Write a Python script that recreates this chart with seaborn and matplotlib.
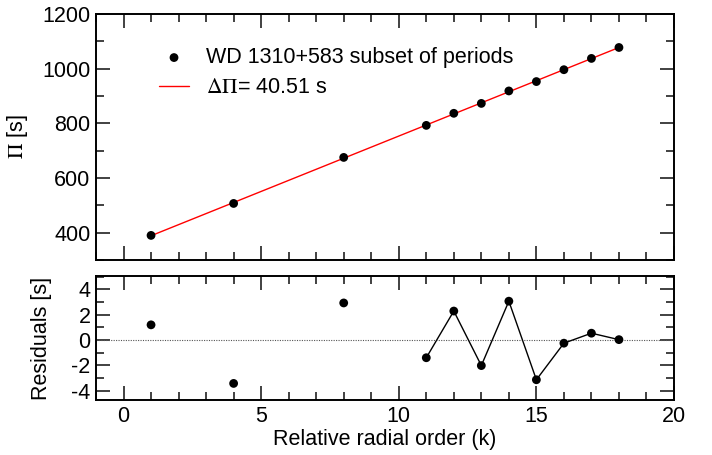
import numpy as np
import pandas as pd
import seaborn as sns
import matplotlib
matplotlib.use("Agg")
import matplotlib.pyplot as plt
from matplotlib.ticker import MultipleLocator

# Radial order and measured periods of the selected modes
k_order = [1, 4, 8, 11, 12, 13, 14, 15, 16, 17, 18]
periods = [390.0, 506.9, 675.3, 792.5, 836.7, 872.9, 918.5, 952.8, 996.2, 1037.5, 1077.5]

# Linear fit Pi(k) = Pi0 + dPi * k
delta_pi = 40.51
pi_zero = 348.3

# Residual points joined by a line (the consecutive run of orders)
joined_k = [11, 12, 13, 14, 15, 16, 17, 18]

star_label = "WD 1310+583 subset of periods"
fit_label = r"$\Delta\Pi$= 40.51 s"

sns.set_theme(style="ticks")
plt.rcParams["font.family"] = ["Liberation Sans", "DejaVu Sans"]
plt.rcParams["mathtext.fontset"] = "stix"
plt.rcParams["axes.unicode_minus"] = False
plt.rcParams["text.color"] = "black"
plt.rcParams["axes.labelcolor"] = "black"

FS = 15.5

df = pd.DataFrame({"k": k_order, "period": periods})
df["fit"] = pi_zero + delta_pi * df["k"]
df["resid"] = df["period"] - df["fit"]

fig = plt.figure(figsize=(7.12, 4.55), dpi=100)
ax1 = fig.add_axes([96 / 712, 195 / 455, 578 / 712, 246 / 455])
ax2 = fig.add_axes([96 / 712, 55 / 455, 578 / 712, 124 / 455])

# Upper panel: periods and fitted line
sns.lineplot(data=df, x="k", y="fit", ax=ax1, color="#ff0000", lw=1.0,
             label=fit_label, zorder=2)
sns.scatterplot(data=df, x="k", y="period", ax=ax1, color="black", s=40,
                edgecolor="none", label=star_label, zorder=3)

# Lower panel: residuals
ax2.axhline(0, color="#555555", lw=0.8, ls=(0, (1, 1.2)), zorder=1)
sub = df[df["k"].isin(joined_k)]
sns.lineplot(data=sub, x="k", y="resid", ax=ax2, color="black", lw=1.0, zorder=2)
sns.scatterplot(data=df, x="k", y="resid", ax=ax2, color="black", s=40,
                edgecolor="none", zorder=3, legend=False)

ax1.set_xlim(-1, 20)
ax1.set_ylim(300, 1200)
ax2.set_xlim(-1, 20)
ax2.set_ylim(-4.75, 5.05)

for ax in (ax1, ax2):
    ax.xaxis.set_major_locator(MultipleLocator(5))
    ax.xaxis.set_minor_locator(MultipleLocator(1))
    ax.tick_params(which="both", direction="in", top=True, right=True,
                   width=1.3, color="#333333")
    ax.tick_params(which="major", length=10)
    ax.tick_params(which="minor", length=6)
    ax.tick_params(labelsize=FS, labelcolor="black", pad=4)
    for sp in ax.spines.values():
        sp.set_linewidth(1.4)
        sp.set_color("black")
        sp.set_visible(True)

ax1.yaxis.set_major_locator(MultipleLocator(200))
ax1.yaxis.set_minor_locator(MultipleLocator(100))
ax2.yaxis.set_major_locator(MultipleLocator(2))
ax2.yaxis.set_minor_locator(MultipleLocator(1))
ax1.tick_params(labelbottom=False)

ax1.set_xlabel("")
ax1.set_ylabel(r"$\Pi$ [s]", fontsize=FS, color="black")
ax2.set_xlabel("Relative radial order (k)", fontsize=FS, labelpad=2, color="black")
ax2.set_ylabel("Residuals [s]", fontsize=FS, color="black")
ax1.yaxis.set_label_coords(-0.114, 0.5)
ax2.yaxis.set_label_coords(-0.076, 0.5)

handles, labels = ax1.get_legend_handles_labels()
order = [labels.index(star_label), labels.index(fit_label)]
leg = ax1.legend([handles[i] for i in order], [labels[i] for i in order],
                 loc="upper left", bbox_to_anchor=(0.094, 0.90), frameon=False,
                 fontsize=FS, handlelength=1.4, handletextpad=0.8,
                 labelspacing=0.42, borderaxespad=0)
for t in leg.get_texts():
    t.set_color("black")

fig.savefig("out.png", dpi=100)
